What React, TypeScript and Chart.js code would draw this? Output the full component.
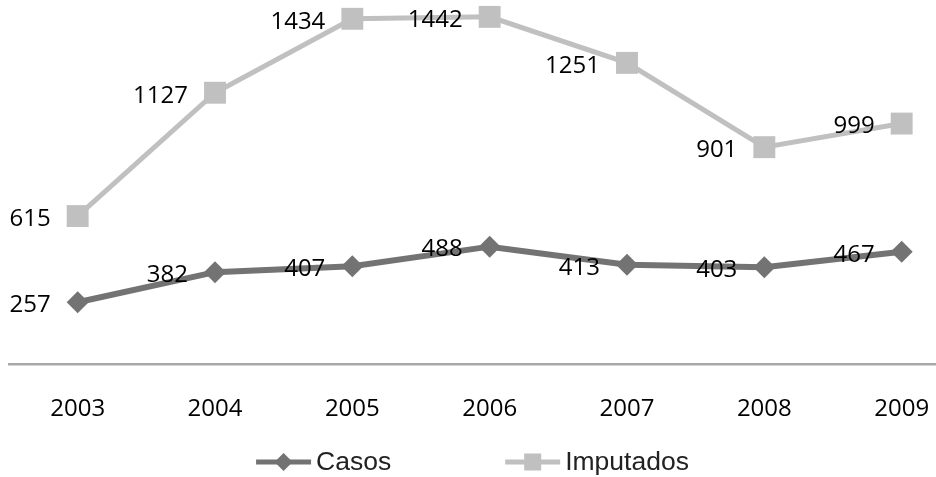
import React, { useEffect, useRef } from "react";
import { Chart, registerables } from "chart.js";

Chart.register(...registerables);

const categories = ["2003", "2004", "2005", "2006", "2007", "2008", "2009"];
const casos = [257, 382, 407, 488, 413, 403, 467];
const imputados = [615, 1127, 1434, 1442, 1251, 901, 999];

const CASOS_COLOR = "#737373";
const IMP_COLOR = "#c0c0c0";
const NUM_FONT = '24px "Open Sans"';
const LEGEND_FONT = '26.5px "Liberation Sans"';

const dataLabelPlugin = {
  id: "dataLabels",
  afterDatasetsDraw(chart: any) {
    const ctx = chart.ctx;
    ctx.save();
    ctx.font = NUM_FONT;
    ctx.fillStyle = "#000";
    ctx.textAlign = "right";
    ctx.textBaseline = "middle";
    chart.data.datasets.forEach((ds: any, di: number) => {
      const meta = chart.getDatasetMeta(di);
      meta.data.forEach((pt: any, i: number) => {
        ctx.fillText(String(ds.data[i].y), pt.x - 27, pt.y + 3);
      });
    });
    ctx.restore();
  },
};

const legendPlugin = {
  id: "excelLegend",
  afterDraw(chart: any) {
    const ctx = chart.ctx;
    const area = chart.chartArea;
    ctx.save();
    ctx.font = LEGEND_FONT;
    const lineLen = 55;
    const gap = 5;
    const itemGap = 114;
    const items = chart.data.datasets.map((ds: any) => ({
      label: ds.label,
      color: ds.borderColor,
      style: ds.pointStyle,
      w: lineLen + gap + ctx.measureText(ds.label).width,
    }));
    const total = items.reduce((s: number, it: any) => s + it.w, 0) + itemGap * (items.length - 1);
    let x = (area.left + area.right) / 2 - total / 2;
    const y = 462;
    items.forEach((it: any) => {
      ctx.strokeStyle = it.color;
      ctx.lineWidth = 5;
      ctx.beginPath();
      ctx.moveTo(x, y);
      ctx.lineTo(x + lineLen, y);
      ctx.stroke();
      const cx = x + lineLen / 2;
      ctx.fillStyle = it.color;
      if (it.style === "rectRot") {
        ctx.beginPath();
        ctx.moveTo(cx, y - 9);
        ctx.lineTo(cx + 9, y);
        ctx.lineTo(cx, y + 9);
        ctx.lineTo(cx - 9, y);
        ctx.closePath();
        ctx.fill();
      } else {
        ctx.fillRect(cx - 8.5, y - 8.5, 17, 17);
      }
      ctx.fillStyle = "#222";
      ctx.textAlign = "left";
      ctx.textBaseline = "middle";
      ctx.fillText(it.label, x + lineLen + gap, y + 1);
      x += it.w + itemGap;
    });
    ctx.restore();
  },
};

export default function App() {
  const ref = useRef<HTMLCanvasElement>(null);
  useEffect(() => {
    if (!ref.current) return;
    const chart = new Chart(ref.current, {
      type: "line",
      data: {
        datasets: [
          {
            label: "Casos",
            data: casos.map((v, i) => ({ x: i, y: v })),
            borderColor: CASOS_COLOR,
            backgroundColor: CASOS_COLOR,
            borderWidth: 6,
            pointStyle: "rectRot",
            pointRadius: 11,
            pointBorderWidth: 0,
            pointBackgroundColor: CASOS_COLOR,
            tension: 0,
            clip: false,
          },
          {
            label: "Imputados",
            data: imputados.map((v, i) => ({ x: i, y: v })),
            borderColor: IMP_COLOR,
            backgroundColor: IMP_COLOR,
            borderWidth: 5,
            pointStyle: "rect",
            pointRadius: 15.5,
            pointBorderWidth: 0,
            pointBackgroundColor: IMP_COLOR,
            tension: 0,
            clip: false,
          },
        ],
      },
      options: {
        animation: false,
        responsive: true,
        maintainAspectRatio: false,
        layout: { autoPadding: false, padding: { left: 9, right: 0, top: 0, bottom: 22 } },
        plugins: {
          legend: { display: false },
          tooltip: { enabled: false },
        },
        scales: {
          x: {
            type: "linear",
            min: -0.5,
            max: 6.25,
            afterBuildTicks: (scale: any) => {
              scale.ticks = categories.map((_, i) => ({ value: i }));
            },
            afterFit: (scale: any) => {
              scale.paddingLeft = 0;
              scale.paddingRight = 0;
            },
            grid: { display: false, drawTicks: false, tickLength: 0 },
            border: { display: true, color: "#a8a8a8", width: 2.5 },
            ticks: {
              padding: 31,
              autoSkip: false,
              maxRotation: 0,
              color: "#000",
              font: { family: "Open Sans", size: 24 },
              callback: (v: any) => categories[v as number] ?? "",
            },
          },
          y: {
            display: false,
            min: 0,
            max: 1512,
          },
        },
      },
      plugins: [dataLabelPlugin, legendPlugin],
    });
    return () => chart.destroy();
  }, []);
  return (
    <div style={{ position: "absolute", left: 0, top: 0, width: 936, height: 477 }}>
      <canvas ref={ref} />
    </div>
  );
}
